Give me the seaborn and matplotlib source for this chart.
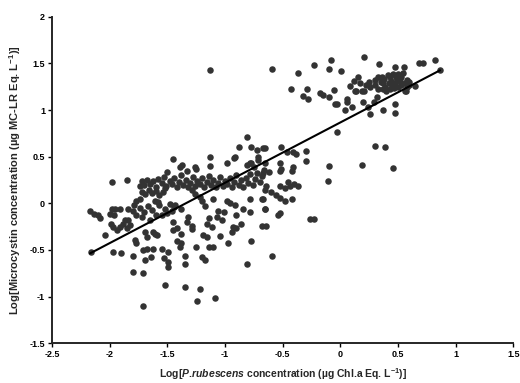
import matplotlib
matplotlib.use("Agg")
import matplotlib.pyplot as plt
import seaborn as sns
import numpy as np
import pandas as pd
from matplotlib.ticker import FuncFormatter

# Log P. rubescens (x) vs log microcystin (y)
log_pr = [
    # upper right group
    -0.59, -0.37, -0.23, -0.08, -0.095, 0.01, 0.21, 0.34, 0.475, 0.55, 0.68, 0.72, 0.82, 0.865,
    -0.43, -0.29, -0.32, -0.28, -0.18, -0.15, -0.10, -0.055, -0.03, 0.056, 0.04, 0.10, 0.085, 0.12,
    0.14, 0.19, 0.21, 0.17, 0.13, 0.20, 0.24, 0.26, 0.29, 0.316, 0.37, 0.475, 0.475, 0.57, 0.65, 0.56,
    -0.05, 0.06,
    0.30, 0.36, 0.43, 0.46, 0.50, 0.53, 0.58, 0.60, 0.58, 0.26, 0.30, 0.33, 0.37, 0.39, 0.40, 0.42,
    0.45, 0.475, 0.49, 0.50, 0.53, 0.56, 0.43, 0.37, 0.60,
    0.38, 0.44, 0.48, 0.52, 0.41, 0.54, 0.35, 0.47, 0.33, 0.25, 0.22, 0.15,
    # middle right, sparse
    -0.03, 0.30, 0.39, 0.19, 0.455, -0.095, -0.11, -0.30, -0.30, -0.26, -0.23,
    -0.67, -0.51, -0.46, -0.41, -0.38, -0.65,
    -0.67, -0.62, -0.52, -0.52, -0.41, -0.42, -0.51,
    -0.64, -0.52, -0.44, -0.37, -0.48, -0.45, -0.40,
    -0.67, -0.56, -0.48, -0.42, -0.52, -0.60,
    -0.54, -0.52, -0.64, -0.59, -0.68, -0.65, -0.65,
    # middle block, upper part
    -1.13, -1.45, -1.50, -1.39, -1.37, -1.33, -1.25, -1.13, -1.13, -0.98, -0.92, -0.88, -0.81,
    -0.77, -0.72, -0.78, -0.75, -0.71, -0.91, -1.26, -0.81, -0.77, -0.71, -0.65,
    # dense band
    -1.68, -1.65, -1.62, -1.60, -1.58, -1.55, -1.53, -1.51, -1.48, -1.46, -1.44, -1.42, -1.40,
    -1.38, -1.36, -1.34, -1.32, -1.30, -1.28, -1.26, -1.24, -1.22, -1.20, -1.18, -1.16, -1.14,
    -1.12, -1.10, -1.08, -1.06, -1.04, -1.02, -1.00, -0.98, -0.96, -0.94, -0.92, -0.90, -0.88,
    -0.86, -0.84, -0.82, -0.80, -0.78, -0.76, -0.74, -0.72, -0.70, -0.68, -0.66,
    -1.72, -1.69, -1.66, -1.63, -1.60, -1.57, -1.54, -1.52, -1.61, -1.58,
    # middle block, lower part
    -1.29, -1.26, -1.22, -1.10, -1.43, -1.38, -0.98, -0.96, -0.91, -0.78, -0.68, -1.06, -1.01,
    -1.07, -1.03, -1.32, -1.33, -1.29, -1.14, -1.16, -1.11, -0.90, -0.86, -0.78, -0.65, -0.84,
    -0.93, -0.94, -0.90, -1.20, -1.17,
    -1.42, -1.38, -1.29, -1.42, -1.39, -1.38, -1.35, -1.35, -1.25, -1.20, -1.17, -1.16, -1.14,
    -1.10, -0.97, -0.81, -0.77, -1.35, -1.22, -1.24, -1.09, -1.45, -1.45, -1.04, -1.19,
    # left block
    -1.98, -1.85, -1.74, -1.72, -1.70,
    -2.17, -2.14, -2.10, -2.08, -2.16, -2.04, -1.97, -1.90,
    -1.98, -1.95, -1.91, -1.84, -2.00, -1.96,
    -1.99, -1.97, -1.91, -1.94, -1.88, -1.85, -1.82, -1.87, -1.84,
    -1.80, -1.80, -1.71, -1.78, -1.77, -1.71,
    -1.71, -1.68, -1.62, -1.69, -1.68, -1.62, -1.61, -1.64, -1.55, -1.52, -1.49, -1.49, -1.49,
    -1.53, -1.59, -1.69,
    -1.80, -1.77, -1.74, -1.72, -1.70, -1.67, -1.65, -1.63, -1.60, -1.57, -1.55, -1.52, -1.50,
    -1.48, -1.46, -1.44, -1.77, -1.74, -1.79,
]
log_mc = [
    1.44, 1.40, 1.48, 1.54, 1.44, 1.42, 1.57, 1.49, 1.46, 1.46, 1.51, 1.51, 1.54, 1.43,
    1.23, 1.23, 1.15, 1.12, 1.18, 1.16, 1.14, 1.22, 1.06, 1.12, 1.00, 1.03, 1.26, 1.31,
    1.20, 1.21, 1.20, 1.29, 1.20, 1.09, 1.03, 0.96, 1.09, 1.14, 1.00, 1.07, 0.97, 1.21, 1.26, 1.20,
    1.06, 1.09,
    1.32, 1.36, 1.36, 1.39, 1.39, 1.36, 1.32, 1.30, 1.25, 1.25, 1.27, 1.23, 1.29, 1.25, 1.21, 1.29,
    1.27, 1.29, 1.32, 1.25, 1.27, 1.29, 1.23, 1.23, 1.27,
    1.33, 1.31, 1.35, 1.31, 1.38, 1.40, 1.30, 1.24, 1.36, 1.30, 1.27, 1.36,
    0.77, 0.62, 0.60, 0.41, 0.38, 0.40, 0.24, 0.56, 0.45, -0.17, -0.17,
    0.59, 0.60, 0.55, 0.55, 0.53, 0.59,
    0.32, 0.34, 0.43, 0.35, 0.39, 0.35, 0.37,
    0.19, 0.19, 0.19, 0.19, 0.16, 0.23, 0.21,
    0.05, 0.09, 0.03, 0.05, 0.06, 0.12,
    -0.12, -0.10, -0.24, -0.57, -0.24, -0.06, 0.14,
    1.43, 0.47, 0.34, 0.39, 0.41, 0.35, 0.37, 0.50, 0.40, 0.43, 0.49, 0.60, 0.71,
    0.60, 0.57, 0.43, 0.39, 0.50, 0.50, 0.39, 0.41, 0.43, 0.46, 0.43,
    0.25, 0.21, 0.24, 0.18, 0.26, 0.22, 0.28, 0.19, 0.24, 0.21, 0.27, 0.18, 0.23,
    0.30, 0.20, 0.25, 0.17, 0.22, 0.28, 0.19, 0.24, 0.21, 0.27, 0.17, 0.23, 0.29,
    0.20, 0.25, 0.18, 0.22, 0.28, 0.19, 0.24, 0.21, 0.27, 0.17, 0.23, 0.30, 0.20,
    0.25, 0.18, 0.27, 0.22, 0.31, 0.20, 0.26, 0.33, 0.23, 0.29, 0.36,
    0.12, 0.10, 0.14, 0.11, 0.13, 0.09, 0.12, 0.16, 0.03, 0.01,
    0.14, 0.10, 0.07, 0.05, -0.02, -0.06, 0.03, 0.00, -0.02, 0.05, 0.05, -0.08, -0.09,
    -0.15, -0.18, -0.15, -0.20, -0.24, -0.16, -0.22, -0.25, -0.13, -0.22, -0.09, -0.06, -0.06,
    -0.25, -0.31, -0.27, 0.02, -0.03,
    -0.27, -0.33, -0.28, -0.40, -0.47, -0.43, -0.56, -0.65, -0.47, -0.58, -0.61, -0.36, -0.47,
    -0.47, -0.43, -0.65, -0.40, -0.90, -0.92, -1.05, -1.02, -0.20, -0.29, -0.35, -0.34,
    0.23, 0.25, 0.19, 0.24, 0.20,
    -0.08, -0.11, -0.13, -0.16, -0.52, -0.34, -0.52, -0.53,
    -0.06, -0.06, -0.06, -0.06, -0.11, -0.13,
    -0.22, -0.25, -0.25, -0.29, -0.22, -0.27, -0.23, -0.18, -0.18,
    -0.56, -0.74, -0.75, -0.39, -0.43, -1.10,
    -0.50, -0.49, -0.49, -0.61, -0.36, -0.31, -0.33, -0.58, -0.49, -0.88, -0.52, -0.63, -0.68,
    -0.59, -0.34, -0.31,
    -0.08, -0.12, -0.05, -0.15, -0.09, -0.03, -0.18, -0.07, -0.12, -0.02, -0.13, -0.06, -0.10,
    -0.01, -0.08, -0.04, 0.02, 0.05, -0.02,
]

# fitted regression line as printed in the figure
fit_slope = 0.647
fit_intercept = 0.867

x_ticks = [-2.5, -2, -1.5, -1, -0.5, 0, 0.5, 1, 1.5]
y_ticks = [-1.5, -1, -0.5, 0, 0.5, 1, 1.5, 2]

df = pd.DataFrame({"log_pr": log_pr, "log_mc": log_mc})
x_span = np.array([df["log_pr"].min(), df["log_pr"].max()])
fit = pd.DataFrame({"log_pr": x_span, "log_mc": fit_slope * x_span + fit_intercept})

sns.set_style("ticks")
plt.rcParams["font.family"] = ["Liberation Sans", "DejaVu Sans"]
plt.rcParams["font.weight"] = "bold"
plt.rcParams["mathtext.fontset"] = "custom"
plt.rcParams["mathtext.rm"] = "Liberation Sans:bold"
plt.rcParams["mathtext.it"] = "Liberation Sans:bold:italic"
plt.rcParams["mathtext.bf"] = "Liberation Sans:bold"
plt.rcParams["axes.unicode_minus"] = False

fig = plt.figure(figsize=(5.2, 3.83), dpi=100)
ax = fig.add_axes([0.1, 0.104, 0.887, 0.852])

sns.scatterplot(data=df, x="log_pr", y="log_mc", ax=ax, color="#333333",
                s=22, linewidth=0)
sns.lineplot(data=fit, x="log_pr", y="log_mc", ax=ax, color="black", linewidth=1.5)

ax.set_xlim(x_ticks[0], x_ticks[-1])
ax.set_ylim(y_ticks[0], y_ticks[-1])
ax.set_xticks(x_ticks)
ax.set_yticks(y_ticks)
fmt = FuncFormatter(lambda v, p: f"{v:g}")
ax.xaxis.set_major_formatter(fmt)
ax.yaxis.set_major_formatter(fmt)
ax.tick_params(direction="out", length=3, width=1, labelsize=6.5, pad=2, colors="black")
for lab in ax.get_xticklabels() + ax.get_yticklabels():
    lab.set_fontweight("bold")

sns.despine(ax=ax)
ax.spines["left"].set_linewidth(1.4)
ax.spines["bottom"].set_linewidth(1.4)

ax.set_xlabel(r"Log[$\mathit{P.}\!\mathit{rubescens}$ concentration (µg Chl.a Eq. L$^{-1}$)]",
              fontsize=7.5, fontweight="bold", labelpad=5)
ax.set_ylabel(r"Log[Microcystin concentration (µg MC-LR Eq. L$^{-1}$)]",
              fontsize=8, fontweight="bold", labelpad=5)

fig.savefig("out.png", dpi=100)
